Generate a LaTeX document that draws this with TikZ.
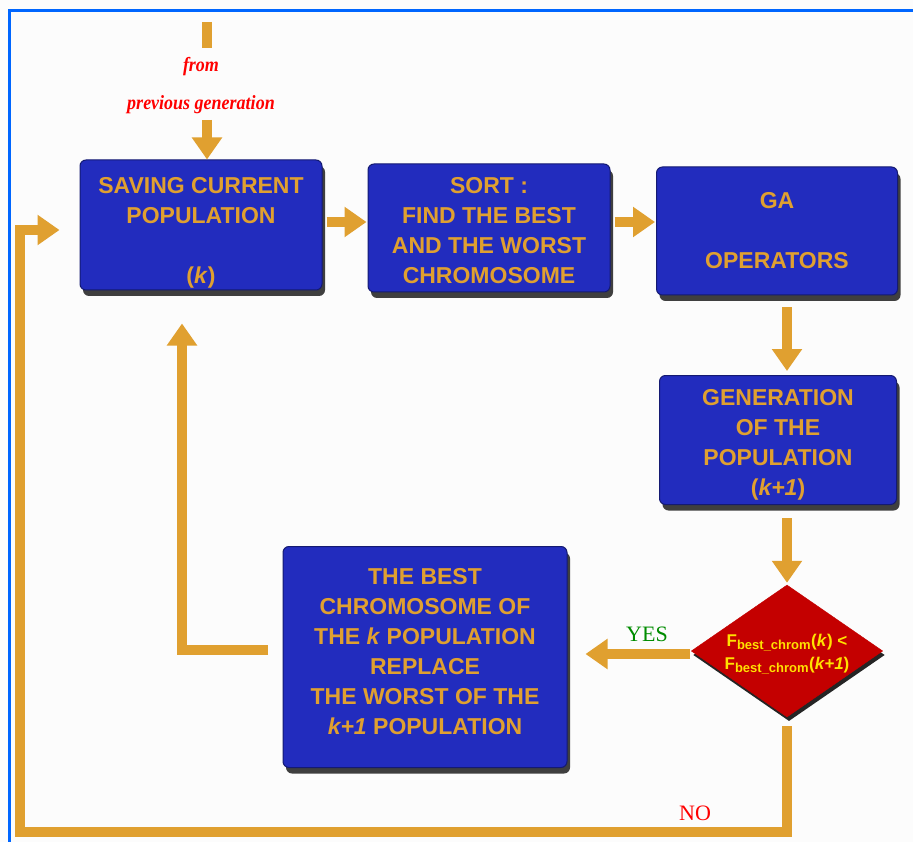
\documentclass[tikz,border=0pt]{standalone}
\usepackage{fontspec}
\setmainfont{Liberation Sans}
\newfontfamily\serifx{Liberation Serif}
\usetikzlibrary{arrows.meta,shapes.geometric,shadows}
\definecolor{frameblue}{RGB}{0,102,255}
\definecolor{boxblue}{RGB}{34,44,190}
\definecolor{gold}{RGB}{224,160,48}
\definecolor{dred}{RGB}{196,0,0}
\definecolor{ytext}{RGB}{255,225,0}
\definecolor{ygreen}{RGB}{0,140,0}
\newcommand{\shiftedtext}[2]{\raisebox{#1}[\height][\depth]{\begin{tabular}{@{}c@{}}#2\end{tabular}}}
\tikzset{
  x=1pt,y=-1pt,
  bluebox/.style={draw=boxblue!60!black,line width=1pt,fill=boxblue,rounded corners=6pt,
    drop shadow={shadow xshift=3pt,shadow yshift=-6pt,opacity=0.75,fill=black},
    text=gold,font=\fontsize{23}{30}\selectfont\bfseries,align=center,inner sep=0pt},
  decision/.style={diamond,fill=dred,draw=dred,aspect=1.45,inner sep=0pt,
    drop shadow={shadow xshift=2pt,shadow yshift=-4pt,opacity=0.85,fill=black},
    text=ytext,font=\fontsize{17}{23}\selectfont\bfseries,align=center},
  arr/.style={draw=gold,line width=9.5pt,-{Triangle[length=22pt,width=29pt]}},
  bar/.style={draw=gold,line width=9.5pt},
  lbl/.style={font=\serifx\fontsize{22}{24}\selectfont,inner sep=0pt}
}
\begin{document}
\begin{tikzpicture}
\useasboundingbox (0,0) rectangle (913,842);
\fill[white!99!black] (0,0) rectangle (913,842);
\draw[frameblue,line width=3pt] (9,860) -- (9,11) -- (930,11);

% boxes
\node[bluebox,minimum width=242pt,minimum height=130pt] (b1) at (201,225)
  {\shiftedtext{-8pt}{SAVING CURRENT\\POPULATION\\\mbox{}\\(\textit{k})}};
\node[bluebox,minimum width=242pt,minimum height=128pt] (b2) at (489,228)
  {\shiftedtext{-5pt}{SORT :\\FIND THE BEST\\AND THE WORST\\CHROMOSOME}};
\node[bluebox,minimum width=241pt,minimum height=128pt] (b3) at (777,231)
  {GA\\\mbox{}\\OPERATORS};
\node[bluebox,minimum width=237pt,minimum height=129pt] (b4) at (778,440)
  {\shiftedtext{-4pt}{GENERATION\\OF THE\\POPULATION\\(\textit{k+1})}};
\node[bluebox,minimum width=284pt,minimum height=221pt] (b5) at (425,657)
  {\shiftedtext{4pt}{THE BEST\\CHROMOSOME OF\\THE \textit{k} POPULATION\\REPLACE\\THE WORST OF THE\\\textit{k+1} POPULATION}};
\node[decision,minimum width=191pt,minimum height=132pt] (d) at (787,651)
  {\shiftedtext{-2pt}{F\textsubscript{\fontsize{13}{13}\selectfont best\_chrom}(\textit{k}) <\\F\textsubscript{\fontsize{13}{13}\selectfont best\_chrom}(\textit{k+1})}};

% source text
\node[text=red,font=\serifx\fontsize{18}{34}\selectfont\bfseries\itshape,align=center,inner sep=0pt,yscale=1.12] (src) at (201,86)
  {from\\previous generation};
\coordinate (s0) at (207,22);
\coordinate (s1) at (207,48);
\coordinate (s2) at (207,120);
\draw[bar] (s0) -- (s1);
\draw[arr] (s2) -- (b1.north -| s2);

% main flow
\draw[arr,shorten <=4pt,shorten >=1pt] (b1.east |- 0,222) -- (b2.west |- 0,222);
\draw[arr,shorten <=4pt,shorten >=1pt] (b2.east |- 0,222) -- (b3.west |- 0,222);
\draw[arr,shorten <=12pt,shorten >=4pt] (b3.south -| d.north) -- (b4.north -| d.north);
\draw[arr,shorten <=13pt,shorten >=2pt] (b4.south -| d.north) -- (d.north);
\coordinate (y1) at (690,654);
\draw[arr,shorten >=18pt] (y1) -- (b5.east |- y1);
\node[lbl,text=ygreen,anchor=south] (yes) at (647,642) {YES};

% back to saving
\coordinate (r0) at (268,650);
\coordinate (r1) at (182,650);
\draw[arr,line join=miter,shorten >=33pt] (r0) -- (r1) -- (b1.south -| r1);

% NO loop
\coordinate (n0) at (787,726);
\coordinate (n1) at (787,832);
\coordinate (n2) at (20,832);
\coordinate (n3) at (20,230);
\draw[arr,line join=miter,shorten >=20pt] (n0) -- (n1) -- (n2) -- (n3) -- (b1.west |- n3);
\node[lbl,text=red,anchor=south] (no) at (695,821) {NO};
\end{tikzpicture}
\end{document}
